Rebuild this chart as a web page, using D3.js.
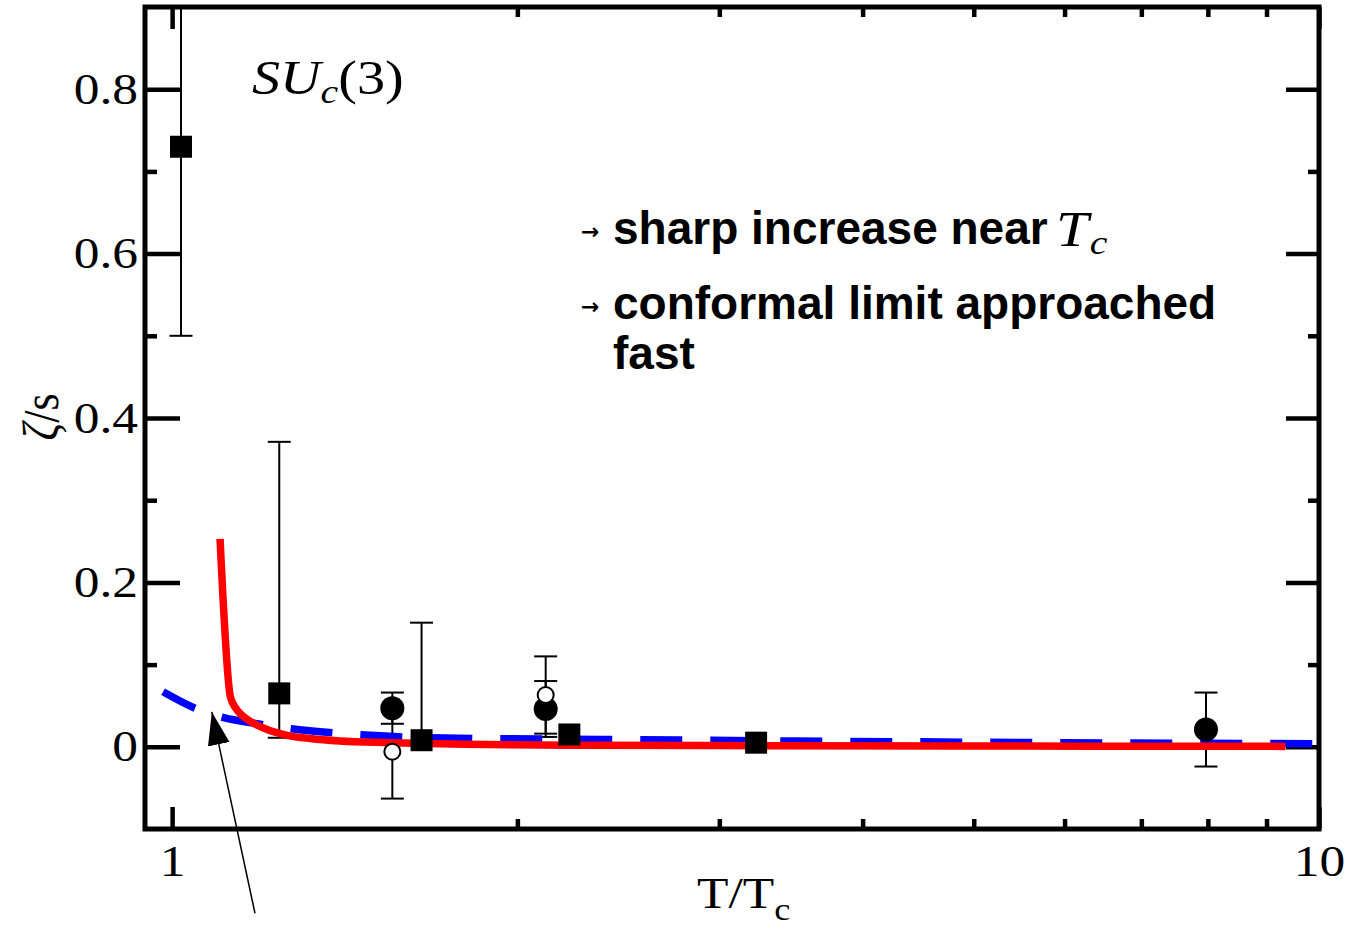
<!DOCTYPE html>
<html>
<head>
<meta charset="utf-8">
<script src="https://cdn.jsdelivr.net/npm/d3@7"></script>
<style>
  body { margin: 0; background: #fff; }
</style>
</head>
<body>
<div id="chart"></div>
<script>
// lattice data, squares
const sqT = [1.018, 1.24, 1.65, 2.22, 3.23];
const sqZeta = [0.73, 0.065, 0.008, 0.015, 0.005];
const sqLo = [0.5, 0.011, 0.004, null, null];
const sqHi = [0.96, 0.371, 0.151, null, null];

// filled circles
const fcT = [1.556, 2.117, 7.97];
const fcZeta = [0.047, 0.046, 0.021];
const fcLo = [0.028, 0.012, -0.024];
const fcHi = [0.066, 0.08, 0.066];

// open circles
const ocT = [1.556, 2.117];
const ocZeta = [-0.006, 0.063];
const ocLo = [-0.063, 0.016];
const ocHi = [0.05, 0.11];

// red solid curve
const redT = [1.101, 1.124, 1.135, 1.147, 1.17, 1.21, 1.26, 1.32, 1.4, 1.55, 1.8, 2.2, 3.0, 5.0, 9.35];
const redZeta = [0.253, 0.061, 0.048, 0.04, 0.031, 0.021, 0.014, 0.01, 0.007, 0.005, 0.003, 0.002, 0.0015, 0.001, 0.0005];

// blue dashed curve
const blueT = [0.982, 1.047, 1.105, 1.2, 1.27, 1.38, 1.46, 1.59, 1.83, 2.1, 3.5, 6.0, 10.0];
const blueZeta = [0.067, 0.047, 0.036, 0.027, 0.022, 0.017, 0.0146, 0.012, 0.01, 0.0095, 0.007, 0.005, 0.0037];

const xMajor = [1, 10];
const xMinor = [2, 3, 4, 5, 6, 7, 8, 9];
const yMajor = [0, 0.2, 0.4, 0.6, 0.8];
const yMinor = [0.1, 0.3, 0.5, 0.7];

// arrow annotation (data units)
const arrowTail = [1.181, -0.2025];
const arrowTip = [1.083, 0.0424];

const W = 1350, H = 931;
const frame = { left: 145, right: 1319, top: 7, bottom: 829 };
const serif = "'Liberation Serif', 'Times New Roman', serif";
const stretch = 1.17; // the original figure is stretched horizontally

const svg = d3.select("#chart").append("svg")
  .attr("width", W).attr("height", H);

const x = d3.scaleLog().domain([0.947, 10]).range([frame.left, frame.right]);
const y = d3.scaleLinear().domain([-0.1, 0.9]).range([frame.bottom, frame.top]);

const defs = svg.append("defs");
defs.append("clipPath").attr("id", "clip")
  .append("rect")
  .attr("x", frame.left).attr("y", frame.top)
  .attr("width", frame.right - frame.left)
  .attr("height", frame.bottom - frame.top);

defs.append("marker")
  .attr("id", "head")
  .attr("markerUnits", "userSpaceOnUse")
  .attr("markerWidth", 34).attr("markerHeight", 24)
  .attr("refX", 33).attr("refY", 11)
  .attr("orient", "auto")
  .append("path").attr("d", "M0,0 L33,11 L0,22 Z").attr("fill", "#000");

// axes with inward ticks
const styleAxis = (g) => {
  g.select(".domain").remove();
  g.selectAll("line").attr("stroke", "#000").attr("stroke-width", 4.5);
  g.selectAll("text")
    .attr("font-family", serif)
    .attr("font-size", 44)
    .attr("fill", "#000");
};

const fmt = (d) => (d === 0 ? "0" : d3.format(".1f")(d));

svg.append("g").attr("transform", `translate(0,${frame.bottom})`)
  .call(d3.axisBottom(x).tickValues(xMajor).tickSize(-22).tickPadding(16).tickFormat(d3.format("d")))
  .call(styleAxis)
  .selectAll("text").attr("transform", `scale(${stretch},1)`);
svg.append("g").attr("transform", `translate(0,${frame.bottom})`)
  .call(d3.axisBottom(x).tickValues(xMinor).tickSize(-10).tickFormat(""))
  .call(styleAxis);
svg.append("g").attr("transform", `translate(0,${frame.top})`)
  .call(d3.axisTop(x).tickValues(xMajor).tickSize(-22).tickFormat(""))
  .call(styleAxis);
svg.append("g").attr("transform", `translate(0,${frame.top})`)
  .call(d3.axisTop(x).tickValues(xMinor).tickSize(-10).tickFormat(""))
  .call(styleAxis);

svg.append("g").attr("transform", `translate(${frame.left},0)`)
  .call(d3.axisLeft(y).tickValues(yMajor).tickSize(-35).tickPadding(6).tickFormat(fmt))
  .call(styleAxis)
  .selectAll("text").attr("transform", `scale(${stretch},1)`);
svg.append("g").attr("transform", `translate(${frame.left},0)`)
  .call(d3.axisLeft(y).tickValues(yMinor).tickSize(-12).tickFormat(""))
  .call(styleAxis);
svg.append("g").attr("transform", `translate(${frame.right},0)`)
  .call(d3.axisRight(y).tickValues(yMajor).tickSize(-33).tickFormat(""))
  .call(styleAxis);
svg.append("g").attr("transform", `translate(${frame.right},0)`)
  .call(d3.axisRight(y).tickValues(yMinor).tickSize(-11).tickFormat(""))
  .call(styleAxis);

// data layer
const plot = svg.append("g").attr("clip-path", "url(#clip)");

const errRows = []
  .concat(sqT.map((t, i) => ({ t, lo: sqLo[i], hi: sqHi[i] })))
  .concat(fcT.map((t, i) => ({ t, lo: fcLo[i], hi: fcHi[i] })))
  .concat(ocT.map((t, i) => ({ t, lo: ocLo[i], hi: ocHi[i] })))
  .filter((d) => d.lo !== null);

const capW = 23;
const eb = plot.selectAll(".err").data(errRows).enter().append("g")
  .attr("stroke", "#000").attr("stroke-width", 2);
eb.append("line")
  .attr("x1", (d) => x(d.t)).attr("x2", (d) => x(d.t))
  .attr("y1", (d) => y(d.lo)).attr("y2", (d) => y(d.hi));
eb.append("line")
  .attr("x1", (d) => x(d.t) - capW / 2).attr("x2", (d) => x(d.t) + capW / 2)
  .attr("y1", (d) => y(d.lo)).attr("y2", (d) => y(d.lo));
eb.append("line")
  .attr("x1", (d) => x(d.t) - capW / 2).attr("x2", (d) => x(d.t) + capW / 2)
  .attr("y1", (d) => y(d.hi)).attr("y2", (d) => y(d.hi));

const line = d3.line()
  .x((d) => x(d[0])).y((d) => y(d[1]))
  .curve(d3.curveMonotoneX);

plot.append("path")
  .datum(d3.zip(blueT, blueZeta))
  .attr("d", line)
  .attr("fill", "none").attr("stroke", "#0000ff")
  .attr("stroke-width", 7.5)
  .attr("stroke-dasharray", "42,28")
  .attr("stroke-dashoffset", 6);

plot.append("path")
  .datum(d3.zip(redT, redZeta))
  .attr("d", line)
  .attr("fill", "none").attr("stroke", "#ff0000")
  .attr("stroke-width", 7.5)
  .attr("stroke-linejoin", "round");

const sq = 22;
plot.selectAll(".sq").data(d3.zip(sqT, sqZeta)).enter().append("rect")
  .attr("x", (d) => x(d[0]) - sq / 2).attr("y", (d) => y(d[1]) - sq / 2)
  .attr("width", sq).attr("height", sq).attr("fill", "#000");

plot.selectAll(".fc").data(d3.zip(fcT, fcZeta)).enter().append("circle")
  .attr("cx", (d) => x(d[0])).attr("cy", (d) => y(d[1]))
  .attr("r", 12).attr("fill", "#000");

plot.selectAll(".oc").data(d3.zip(ocT, ocZeta)).enter().append("circle")
  .attr("cx", (d) => x(d[0])).attr("cy", (d) => y(d[1]))
  .attr("r", 8).attr("fill", "#fff")
  .attr("stroke", "#000").attr("stroke-width", 2);

// frame
svg.append("rect")
  .attr("x", frame.left).attr("y", frame.top)
  .attr("width", frame.right - frame.left)
  .attr("height", frame.bottom - frame.top)
  .attr("fill", "none").attr("stroke", "#000").attr("stroke-width", 5);

// arrow pointing at the curves
svg.append("line")
  .attr("x1", x(arrowTail[0])).attr("y1", y(arrowTail[1]))
  .attr("x2", x(arrowTip[0])).attr("y2", y(arrowTip[1]))
  .attr("stroke", "#000").attr("stroke-width", 1.5)
  .attr("marker-end", "url(#head)");

// axis titles
const xt = svg.append("text")
  .attr("transform", `translate(697,908) scale(${stretch},1)`)
  .attr("font-family", serif).attr("font-size", 44);
xt.append("tspan").text("T/T");
xt.append("tspan").attr("font-size", 31).attr("dy", 12).text("c");

const yt = svg.append("text")
  .attr("transform", `translate(40,417) scale(${stretch},1) rotate(-90)`)
  .attr("text-anchor", "middle").attr("dy", "0.35em")
  .attr("font-family", serif).attr("font-size", 44);
yt.append("tspan").attr("font-style", "italic").text("ζ");
yt.append("tspan").text("/s");

// SU_c(3) label
const su = svg.append("text")
  .attr("transform", `translate(252,94) scale(${stretch},1)`)
  .attr("font-family", serif).attr("font-size", 48);
su.append("tspan").attr("font-style", "italic").text("SU");
su.append("tspan").attr("font-style", "italic").attr("font-size", 34).attr("dy", 9).text("c");
su.append("tspan").attr("dy", -9).text("(3)");

// bullet notes
const sans = "'Liberation Sans', Arial, sans-serif";
const notes = [
  { text: "sharp increase near ", y: 244, bullet: true },
  { text: "conformal limit approached", y: 319, bullet: true },
  { text: "fast", y: 369, bullet: false }
];
notes.forEach((n) => {
  if (n.bullet) {
    svg.append("text").attr("x", 581).attr("y", n.y - 5)
      .attr("font-family", "'DejaVu Sans', sans-serif")
      .attr("font-weight", "bold").attr("font-size", 22)
      .text("→");
  }
  svg.append("text").attr("x", 613).attr("y", n.y)
    .attr("font-family", sans).attr("font-weight", "bold")
    .attr("font-size", 46).attr("fill", "#000")
    .text(n.text);
});

const tc = svg.append("text")
  .attr("transform", `translate(1056,246) scale(${stretch},1)`)
  .attr("font-family", serif).attr("font-size", 50);
tc.append("tspan").attr("font-style", "italic").text("T");
tc.append("tspan").attr("font-style", "italic").attr("font-size", 34).attr("dy", 8).attr("dx", 1).text("c");
</script>
</body>
</html>
